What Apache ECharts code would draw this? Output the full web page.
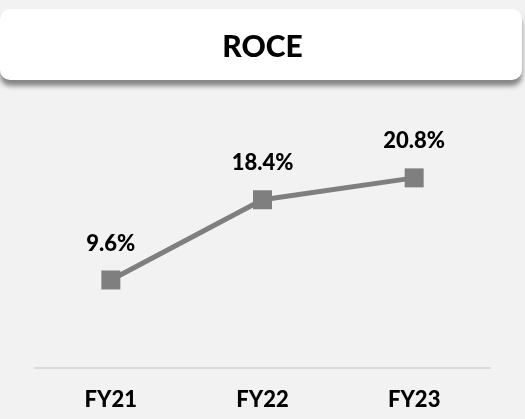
<!DOCTYPE html>
<html>
<head>
<meta charset="utf-8">
<script src="https://cdn.jsdelivr.net/npm/echarts@6/dist/echarts.min.js"></script>
<style>
  html, body { margin: 0; padding: 0; background: #f2f2f2; }
  #chart { width: 525px; height: 419px; }
</style>
</head>
<body>
<div id="chart"></div>
<script>
// 資料
const categories = ["FY21", "FY22", "FY23"];
const roceValues = [9.6, 18.4, 20.8];
const chartTitle = "ROCE";

const font = "Lato";
const chart = echarts.init(document.getElementById("chart"));

const option = {
  backgroundColor: "#f2f2f2",
  animation: false,
  graphic: [
    {
      type: "rect",
      z: 0,
      shape: { x: 0, y: 9, width: 522, height: 71, r: 10 },
      style: {
        fill: "#ffffff",
        shadowColor: "rgba(0,0,0,0.45)",
        shadowBlur: 5,
        shadowOffsetY: 6
      }
    }
  ],
  title: {
    text: chartTitle,
    left: "center",
    top: 27,
    textStyle: { fontFamily: font, fontWeight: 900, fontSize: 30, color: "#000" }
  },
  grid: { left: 35, right: 35, top: 94, bottom: 51.5 },
  xAxis: {
    type: "category",
    data: categories,
    boundaryGap: true,
    axisLine: { lineStyle: { color: "#d9d9d9", width: 2 } },
    axisTick: { show: false },
    axisLabel: { margin: 21, fontFamily: font, fontWeight: 900, fontSize: 22, color: "#000" }
  },
  yAxis: {
    type: "value",
    min: 0,
    max: 30,
    show: false,
    splitLine: { show: false }
  },
  series: [
    {
      type: "line",
      data: roceValues,
      symbol: "rect",
      symbolSize: 19,
      lineStyle: { color: "#7f7f7f", width: 5 },
      itemStyle: { color: "#7f7f7f" },
      label: {
        show: true,
        position: "top",
        distance: 16,
        formatter: p => p.value.toFixed(1) + "%",
        fontFamily: font,
        fontWeight: 900,
        fontSize: 22,
        color: "#000"
      }
    }
  ]
};

chart.setOption(option);
</script>
</body>
</html>
